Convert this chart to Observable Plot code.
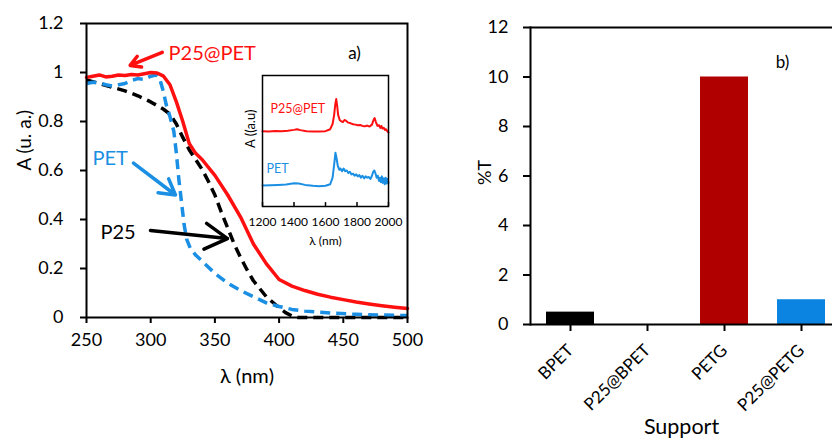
<!DOCTYPE html>
<html>
<head>
<meta charset="utf-8">
<script src="https://cdn.jsdelivr.net/npm/d3@7"></script>
<script src="https://cdn.jsdelivr.net/npm/@observablehq/plot@0.6"></script>
<style>
  html, body { margin: 0; padding: 0; background: #fff; overflow: hidden; }
  #wrap { position: relative; width: 832px; height: 441px; overflow: hidden; font-family: Lato, sans-serif; }
  #wrap > svg, #wrap > figure { position: absolute; margin: 0; }
</style>
</head>
<body>
<div id="wrap"></div>
<script>
// ---------- Panel a) : UV-vis absorbance ----------
const lamP25PET = [250,255,260,265,270,275,280,285,290,295,300,305,310,315,320,325,330,335,340,350,360,370,380,390,400,410,420,430,440,450,460,470,480,490,500];
const absP25PET = [0.98,0.985,0.99,0.982,0.985,0.99,0.988,0.992,0.99,0.995,1.0,0.998,0.985,0.95,0.88,0.80,0.71,0.67,0.645,0.58,0.50,0.41,0.30,0.22,0.155,0.128,0.11,0.095,0.083,0.073,0.063,0.055,0.048,0.042,0.037];

const lamP25 = [250,260,270,280,290,300,310,315,320,325,330,335,340,345,350,355,360,365,370,375,380,390,400,405,410,415,430,450,475,500];
const absP25 = [0.97,0.955,0.94,0.925,0.905,0.88,0.85,0.83,0.79,0.735,0.685,0.645,0.605,0.555,0.50,0.43,0.365,0.30,0.245,0.195,0.15,0.085,0.04,0.02,0.006,0,0,0,0,0];

const lamPET = [250,255,260,265,270,275,280,285,290,295,300,304,307,310,312,315,318,320,322,324,326,328,331,335,340,350,360,370,380,390,400,410,420,440,460,480,500];
const absPET = [0.955,0.96,0.958,0.95,0.945,0.95,0.955,0.968,0.975,0.972,0.985,0.99,0.975,0.92,0.87,0.82,0.76,0.67,0.56,0.47,0.38,0.32,0.28,0.255,0.23,0.18,0.14,0.11,0.085,0.06,0.045,0.033,0.026,0.018,0.013,0.01,0.008];

const xTicksA = [250,300,350,400,450,500];
const yTicksA = [0,0.2,0.4,0.6,0.8,1,1.2];

// annotations (data units)
const annTexts  = ["P25@PET","PET","P25"];
const annColors = ["#ff1010","#1a8fe3","#000000"];
const annX      = [313.9, 254.7, 260.9];
const annY      = [1.078, 0.649, 0.347];
const arrX1 = [309, 286.6, 299.8];
const arrY1 = [1.082, 0.63, 0.355];
const arrX2 = [284, 319.3, 359.8];
const arrY2 = [1.029, 0.50, 0.322];

// ---------- Inset : NIR spectra ----------
const insetLamRed = [1200,1240,1280,1320,1360,1400,1420,1440,1480,1520,1560,1600,1630,1645,1655,1662,1668,1674,1680,1690,1700,1710,1720,1730,1745,1760,1775,1790,1805,1820,1835,1850,1865,1880,1895,1905,1912,1920,1930,1940,1948,1955,1962,1970,1978,1985,1992,2000];
const insetRed    = [0.575,0.573,0.576,0.574,0.578,0.585,0.59,0.583,0.575,0.572,0.573,0.575,0.59,0.63,0.70,0.78,0.82,0.77,0.70,0.66,0.65,0.645,0.66,0.655,0.64,0.635,0.628,0.625,0.62,0.622,0.615,0.612,0.618,0.61,0.625,0.66,0.675,0.645,0.615,0.62,0.60,0.615,0.595,0.60,0.585,0.59,0.575,0.565];
const insetLamBlue = [1200,1250,1300,1350,1400,1430,1470,1520,1560,1600,1630,1645,1655,1663,1670,1678,1688,1695,1705,1715,1725,1735,1745,1755,1765,1775,1785,1795,1805,1815,1825,1835,1845,1855,1865,1875,1885,1895,1903,1910,1918,1925,1932,1940,1946,1952,1958,1964,1970,1976,1982,1988,1994,2000];
const insetBlue    = [0.16,0.162,0.165,0.168,0.178,0.175,0.165,0.158,0.155,0.158,0.17,0.22,0.32,0.41,0.37,0.31,0.28,0.29,0.27,0.29,0.27,0.275,0.255,0.265,0.245,0.25,0.235,0.245,0.23,0.24,0.22,0.235,0.215,0.23,0.22,0.225,0.21,0.235,0.265,0.275,0.25,0.22,0.235,0.195,0.22,0.185,0.23,0.18,0.215,0.17,0.22,0.175,0.21,0.18];
const insetTicks = [1200,1400,1600,1800,2000];
const insetTexts = ["P25@PET","PET"];
const insetTextColors = ["#ff1010","#1a8fe3"];
const insetTextX = [1250.8, 1225];
const insetTextY = [0.748, 0.29];

// ---------- Panel b) : %T bars ----------
const supports  = ["BPET","P25@BPET","PETG","P25@PETG"];
const tValues   = [0.5, 0, 10, 1];
const barColors = ["#000000","#000000","#b00000","#0a84e0"];
const yTicksB   = [0,2,4,6,8,10,12];

const zip = (xs, ys) => xs.map((x, i) => ({x, y: ys[i]}));
const RED = "#ff1010", BLUE = "#1a8fe3";

const wrap = document.getElementById("wrap");

// Left panel
const left = Plot.plot({
  width: 420, height: 441,
  marginLeft: 86, marginRight: 13, marginTop: 23, marginBottom: 124,
  style: {fontFamily: "Lato, sans-serif", background: "transparent", color: "#000", overflow: "visible"},
  x: {domain: [250, 500]},
  y: {domain: [0, 1.2]},
  marks: [
    Plot.line(zip(lamP25, absP25), {x: "x", y: "y", stroke: "#000", strokeWidth: 3.5, strokeDasharray: "10,6", strokeLinecap: "butt"}),
    Plot.line(zip(lamPET, absPET), {x: "x", y: "y", stroke: BLUE, strokeWidth: 3.5, strokeDasharray: "10,6", strokeLinecap: "butt"}),
    Plot.line(zip(lamP25PET, absP25PET), {x: "x", y: "y", stroke: RED, strokeWidth: 3.5}),
    Plot.frame({strokeWidth: 2}),
    Plot.axisX({ticks: xTicksA, tickSize: 6, tickPadding: 10, fontSize: 18, label: null, strokeWidth: 2}),
    Plot.axisY({ticks: yTicksA, tickFormat: d => String(d), tickSize: 6, tickPadding: 17, fontSize: 18, label: null, strokeWidth: 2}),
    Plot.text(["A (u. a.)"], {frameAnchor: "left", dx: -62, rotate: -90, fontSize: 19}),
    Plot.text(["λ (nm)"], {frameAnchor: "bottom", dy: 65, fontSize: 20}),
    Plot.arrow(annTexts, {x1: arrX1, y1: arrY1, x2: arrX2, y2: arrY2, stroke: annColors, strokeWidth: 3.5, headLength: 12}),
    Plot.text(annTexts, {x: annX, y: annY, fill: annColors, textAnchor: "start", fontSize: 20}),
    Plot.text(["a)"], {x: [458.7], y: [1.078], fontSize: 17})
  ]
});
left.style.left = "0px"; left.style.top = "0px";
wrap.appendChild(left);

// Right panel
const barData = supports.map((s, i) => ({support: s, T: tValues[i], color: barColors[i]}));
const right = Plot.plot({
  width: 412, height: 441,
  marginLeft: 110, marginRight: 0, marginTop: 27, marginBottom: 117,
  style: {fontFamily: "Lato, sans-serif", background: "transparent", color: "#000"},
  x: {type: "band", domain: supports, range: [110, 421], paddingInner: 0.38, paddingOuter: 0.19},
  y: {domain: [0, 12]},
  marks: [
    Plot.barY(barData, {x: "support", y: "T", fill: "color"}),
    Plot.ruleY([12], {strokeWidth: 2}),
    Plot.ruleY([0], {strokeWidth: 2}),
    Plot.frame({anchor: "left", strokeWidth: 2}),
    Plot.axisY({ticks: yTicksB, tickSize: 7, tickPadding: 15, fontSize: 18, label: null, strokeWidth: 2}),
    Plot.axisX({tickSize: 7, tickRotate: -45, tickPadding: 16, fontSize: 17, label: null, strokeWidth: 2}),
    Plot.text(["%T"], {frameAnchor: "left", dx: -45, dy: 9, rotate: -90, fontSize: 18}),
    Plot.text(["Support"], {frameAnchor: "bottom", dy: 109, fontSize: 21.5}),
    Plot.text(["b)"], {x: ["P25@PETG"], y: [10.6], dx: -19, fontSize: 17})
  ]
});
right.style.left = "420px"; right.style.top = "0px";
wrap.appendChild(right);

// Inset
const inset = Plot.plot({
  width: 185, height: 200,
  marginLeft: 32, marginRight: 27, marginTop: 15, marginBottom: 54,
  style: {fontFamily: "Lato, sans-serif", background: "transparent", color: "#000"},
  x: {domain: [1200, 2000]},
  y: {domain: [0, 1], axis: null},
  marks: [
    Plot.line(zip(insetLamRed, insetRed), {x: "x", y: "y", stroke: RED, strokeWidth: 2}),
    Plot.line(zip(insetLamBlue, insetBlue), {x: "x", y: "y", stroke: BLUE, strokeWidth: 2}),
    Plot.frame({strokeWidth: 1.5}),
    Plot.ruleX(insetTicks, {y1: 0, y2: 0.03, strokeWidth: 1.5}),
    Plot.axisX({ticks: insetTicks, tickFormat: d => String(d), tickSize: 0, tickPadding: 11, fontSize: 12, label: null}),
    Plot.text(insetTexts, {x: insetTextX, y: insetTextY, fill: insetTextColors, textAnchor: "start", fontSize: 12.5}),
    Plot.text(["A ((a.u)"], {frameAnchor: "left", dx: -12, dy: 7, rotate: -90, fontSize: 13}),
    Plot.text(["λ (nm)"], {frameAnchor: "bottom", dy: 38, fontSize: 12})
  ]
});
inset.style.left = "230px"; inset.style.top = "60px";
wrap.appendChild(inset);
</script>
</body>
</html>
